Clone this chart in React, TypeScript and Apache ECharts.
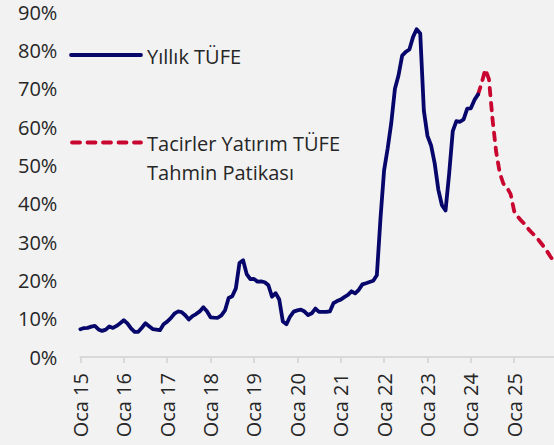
import React, { useEffect, useRef } from "react";
import * as echarts from "echarts";

const years = [15, 16, 17, 18, 19, 20, 21, 22, 23, 24, 25];
const monthNames = ["Oca", "Şub", "Mar", "Nis", "May", "Haz", "Tem", "Ağu", "Eyl", "Eki", "Kas", "Ara"];
const categories: string[] = [];
years.forEach((y) => monthNames.forEach((m) => categories.push(`${m} ${y}`)));

// Yıllık TÜFE, Oca 15 - Mar 24
const annualCpi = [
  7.24, 7.55, 7.61, 7.91, 8.09, 7.2, 6.81, 7.14, 7.95, 7.58, 8.1, 8.81,
  9.58, 8.78, 7.46, 6.57, 6.58, 7.64, 8.79, 8.05, 7.28, 7.16, 7.0, 8.53,
  9.22, 10.13, 11.29, 11.87, 11.72, 10.9, 9.79, 10.68, 11.2, 11.9, 12.98, 11.92,
  10.35, 10.26, 10.23, 10.85, 12.15, 15.39, 15.85, 17.9, 24.52, 25.24, 21.62, 20.3,
  20.35, 19.67, 19.71, 19.5, 18.71, 15.72, 16.65, 15.01, 9.26, 8.55, 10.56, 11.84,
  12.15, 12.37, 11.86, 10.94, 11.39, 12.62, 11.76, 11.77, 11.75, 11.89, 14.03, 14.6,
  14.97, 15.61, 16.19, 17.14, 16.59, 17.53, 18.95, 19.25, 19.58, 19.89, 21.31, 36.08,
  48.69, 54.44, 61.14, 69.97, 73.5, 78.62, 79.6, 80.21, 83.45, 85.51, 84.39, 64.27,
  57.68, 55.18, 50.51, 43.68, 39.59, 38.21, 47.83, 58.94, 61.53, 61.36, 61.98, 64.77,
  64.86, 67.07, 68.5,
];

// Tacirler Yatırım TÜFE Tahmin Patikası, Mar 24 - Ara 25
const forecastStartIndex = 110;
const forecastCpi = [
  68.5, 71.5, 75.0, 72.5, 62.0, 53.5, 48.0, 45.2, 44.2, 42.5,
  38.0, 36.6, 35.5, 34.6, 33.3, 32.3, 31.4, 30.2, 29.0, 27.7, 26.2, 25.0,
];

const NAVY = "#06066b";
const RED = "#c8062f";
const TEXT = "#262626";
const FONT = "'Open Sans', 'Noto Sans', sans-serif";
const FS = 20;

export default function App() {
  const ref = useRef<HTMLDivElement>(null);
  useEffect(() => {
    if (!ref.current) return;
    const chart = echarts.init(ref.current, null, { renderer: "svg" });
    const blue = categories.map((_, i) => (i < annualCpi.length ? annualCpi[i] : null));
    const red = categories.map((_, i) =>
      i >= forecastStartIndex && i - forecastStartIndex < forecastCpi.length
        ? forecastCpi[i - forecastStartIndex]
        : null
    );
    chart.setOption({
      animation: false,
      backgroundColor: "#f2f2f2",
      textStyle: { fontFamily: FONT },
      grid: { left: 80.4, top: 12, width: 477.5, height: 345 },
      xAxis: {
        type: "category",
        data: categories,
        boundaryGap: false,
        axisLine: { show: true, lineStyle: { color: "#d9d9d9", width: 2 } },
        axisTick: {
          show: true,
          length: 6,
          interval: (i: number) => i % 12 === 0,
          lineStyle: { color: "#d9d9d9", width: 2 },
        },
        axisLabel: {
          interval: (i: number) => i % 12 === 0,
          rotate: 90,
          margin: 16,
          fontSize: FS,
          color: TEXT,
          fontFamily: FONT,
        },
        splitLine: { show: false },
      },
      yAxis: {
        type: "value",
        min: 0,
        max: 90,
        interval: 10,
        axisLine: { show: false },
        axisTick: { show: false },
        splitLine: { show: false },
        axisLabel: {
          formatter: "{value}%",
          margin: 23,
          fontSize: FS,
          color: TEXT,
          fontFamily: FONT,
        },
      },
      series: [
        {
          name: "Yıllık TÜFE",
          type: "line",
          data: blue,
          showSymbol: false,
          symbol: "none",
          lineStyle: { color: NAVY, width: 3.8, join: "round", cap: "round" },
          z: 3,
        },
        {
          name: "Tacirler Yatırım TÜFE Tahmin Patikası",
          type: "line",
          data: red,
          showSymbol: false,
          symbol: "none",
          lineStyle: { color: RED, width: 3.8, type: [7.5, 7.5], cap: "round", join: "round" },
          z: 2,
        },
      ],
      graphic: [
        {
          type: "line",
          shape: { x1: 71, y1: 55, x2: 141, y2: 55 },
          style: { stroke: NAVY, lineWidth: 3.8, lineCap: "round" },
        },
        {
          type: "text",
          x: 147,
          y: 56,
          style: {
            text: "Yıllık TÜFE",
            fill: TEXT,
            font: `${FS}px ${FONT}`,
            verticalAlign: "middle",
          },
        },
        {
          type: "line",
          shape: { x1: 72, y1: 142.5, x2: 141, y2: 142.5 },
          style: { stroke: RED, lineWidth: 3.8, lineCap: "round", lineDash: [8, 7.5] },
        },
        {
          type: "text",
          x: 147,
          y: 143.5,
          style: {
            text: "Tacirler Yatırım TÜFE",
            fill: TEXT,
            font: `${FS}px ${FONT}`,
            verticalAlign: "middle",
          },
        },
        {
          type: "text",
          x: 147,
          y: 172,
          style: {
            text: "Tahmin Patikası",
            fill: TEXT,
            font: `${FS}px ${FONT}`,
            verticalAlign: "middle",
          },
        },
      ],
    });
    return () => chart.dispose();
  }, []);
  return (
    <div
      ref={ref}
      style={{ position: "fixed", left: 0, top: 0, width: 554, height: 445 }}
    />
  );
}
